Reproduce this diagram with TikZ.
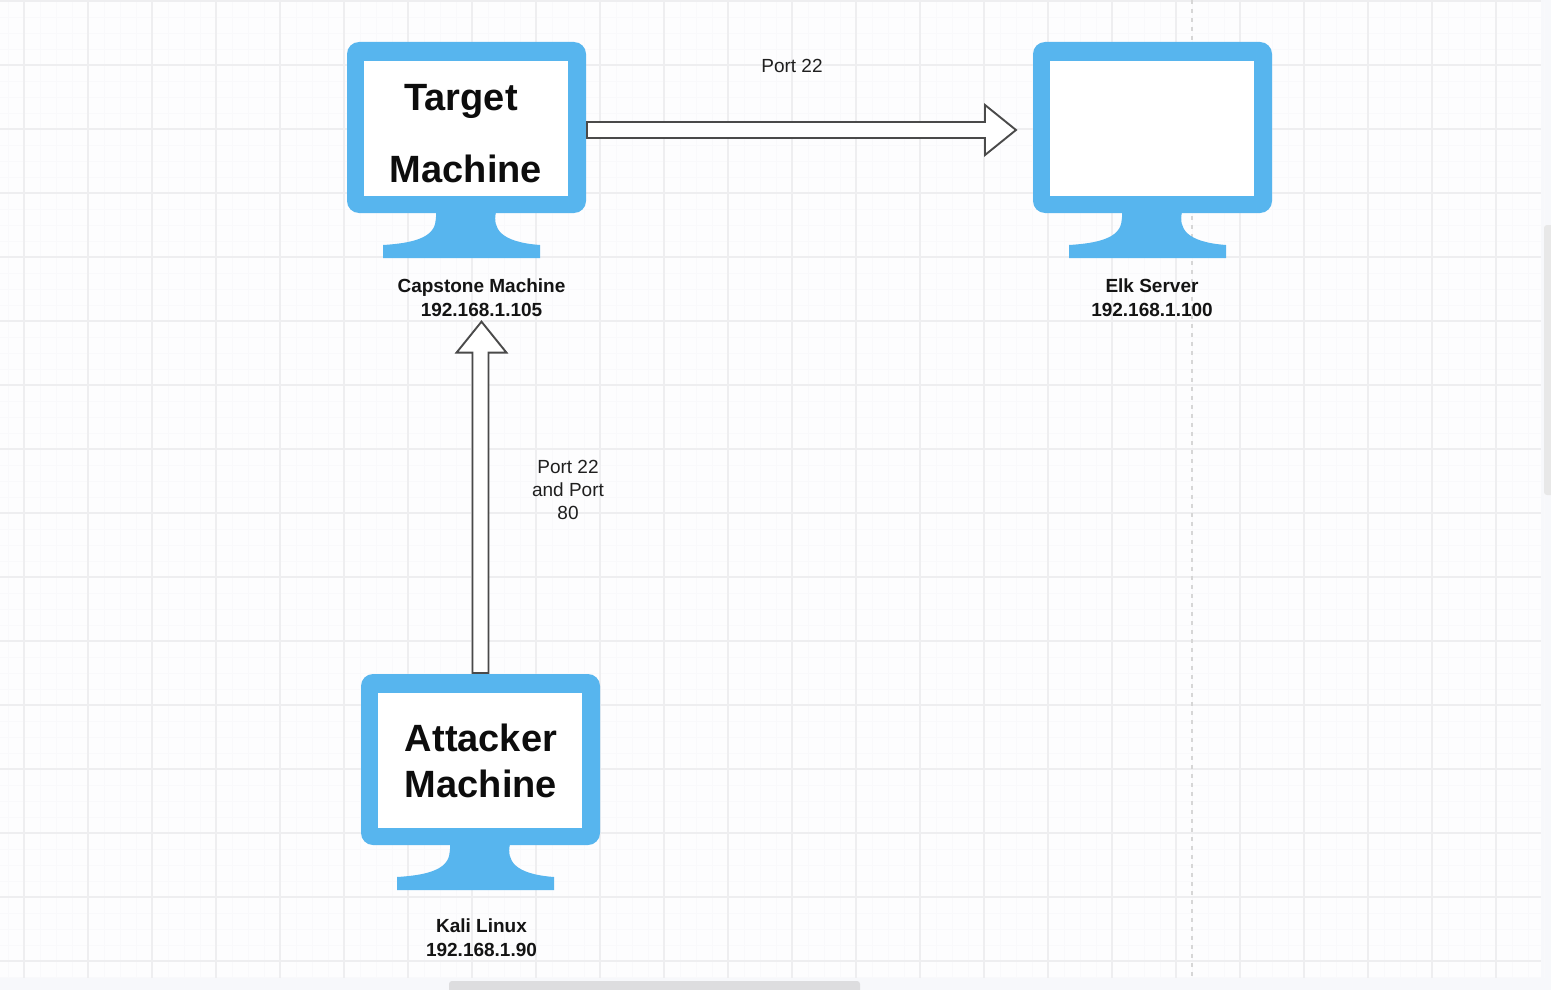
\documentclass[tikz,border=0pt]{standalone}
\usepackage{fontspec}
\setmainfont{Liberation Sans}
\usetikzlibrary{calc}
\definecolor{pagebg}{HTML}{FDFDFE}
\definecolor{edgebg}{HTML}{F7F8FB}
\definecolor{gridmajor}{HTML}{EEEEF0}
\definecolor{gridminor}{HTML}{F9F9FB}
\definecolor{monblue}{HTML}{57B5EE}
\definecolor{arrowline}{HTML}{4A4A4A}
\definecolor{scrollc}{HTML}{DDDDDF}
\tikzset{
  monbody/.style={fill=monblue,rounded corners=12pt,minimum width=239pt,minimum height=171pt,inner sep=0pt,outer sep=0pt},
  monscreen/.style={fill=white,minimum width=204pt,minimum height=135pt,inner sep=0pt,outer sep=0pt},
  screentext/.style={inner sep=0pt,align=center,font=\fontsize{38}{46}\selectfont\bfseries,text=black!95},
  caption/.style={align=center,inner sep=0pt,font=\fontsize{19}{24}\selectfont\bfseries,text=black!92},
  note/.style={align=center,inner sep=0pt,font=\fontsize{19}{23}\selectfont,text=black!88},
  blockarrow/.style={draw=arrowline,line width=1.9pt,fill=white,line join=miter}
}
\newcommand{\standshape}[1]{%
  \begin{scope}[shift={(#1.south)}]
  \fill[monblue] (-30.5,-1) .. controls (-30,15) and (-32,29) .. (-83.5,32)
    -- (-83.5,45) -- (73.5,45) -- (73.5,32)
    .. controls (33,29) and (26,15) .. (29.5,-1) -- cycle;
  \end{scope}}
\begin{document}
\begin{tikzpicture}[x=1pt,y=-1pt]
\useasboundingbox (0,0) rectangle (1551,990);
\fill[edgebg] (0,0) rectangle (1551,990);
\fill[pagebg] (0,2) rectangle (1541,978);
% grid
\foreach \i in {0,...,96}{\draw[gridminor,line width=0.8pt] ({8+16*\i},2) -- ({8+16*\i},978);}
\foreach \i in {0,...,60}{\draw[gridminor,line width=0.6pt] (0,{17+16*\i}) -- (1541,{17+16*\i});}
\foreach \i in {0,...,23}{\draw[gridmajor,line width=1.2pt] ({24+64*\i},2) -- ({24+64*\i},978);}
\foreach \i in {0,...,15}{\draw[gridmajor,line width=1.2pt] (0,{1+64*\i}) -- (1541,{1+64*\i});}
\draw[black!16,line width=1.3pt,dash pattern=on 4pt off 5pt] (1192,0) -- (1192,978);
% scrollbars
\fill[scrollc,rounded corners=3pt] (449,981) rectangle (860,996);
\fill[black!9,rounded corners=3pt] (1544,225) rectangle (1558,495);
% monitors
\node[monbody] (target) at (466.5,127.5) {};
\node[monscreen] (targetscreen) at (466,128.5) {};
\node[screentext] (targettext) at (466,134) {Target\hspace*{10pt}\\[26pt]Machine};
\standshape{target}
\node[monbody] (elk) at (1152.5,127.5) {};
\node[monscreen] (elkscreen) at (1152,128.5) {};
\standshape{elk}
\node[monbody] (attacker) at (480.5,759.5) {};
\node[monscreen] (attackerscreen) at (480,760.5) {};
\node[screentext] (attackertext) at (481,760.5) {Attacker\\Machine};
\standshape{attacker}
% captions
\node[caption] (capstone) at (481.5,297.5) {Capstone Machine\\192.168.1.105};
\node[caption] (elklabel) at (1152,297.5) {Elk Server\\192.168.1.100};
\node[caption] (kali) at (481.5,937.5) {Kali Linux\\192.168.1.90};
\node[note] (p22) at (792,65.5) {Port 22};
\node[note] (p2280) at (568,490) {Port 22\\and Port\\80};
% connectors
\draw[blockarrow] ($(target.east)+(1,-5.5)$) -- ++(398,0) -- ++(0,-17) -- ($(target.east)+(430,2.5)$)
  -- ($(target.east)+(399,27.5)$) -- ++(0,-17) -- ($(target.east)+(1,10.5)$) -- cycle;
\draw[blockarrow] ($(attacker.north)+(-8,-1)$) -- ($(capstone.south)+(-9,36)$) -- ++(-16,0) -- ($(capstone.south)+(0,5)$)
  -- ($(capstone.south)+(25,36)$) -- ++(-18,0) -- ($(attacker.north)+(8,-1)$) -- cycle;
\end{tikzpicture}
\end{document}
